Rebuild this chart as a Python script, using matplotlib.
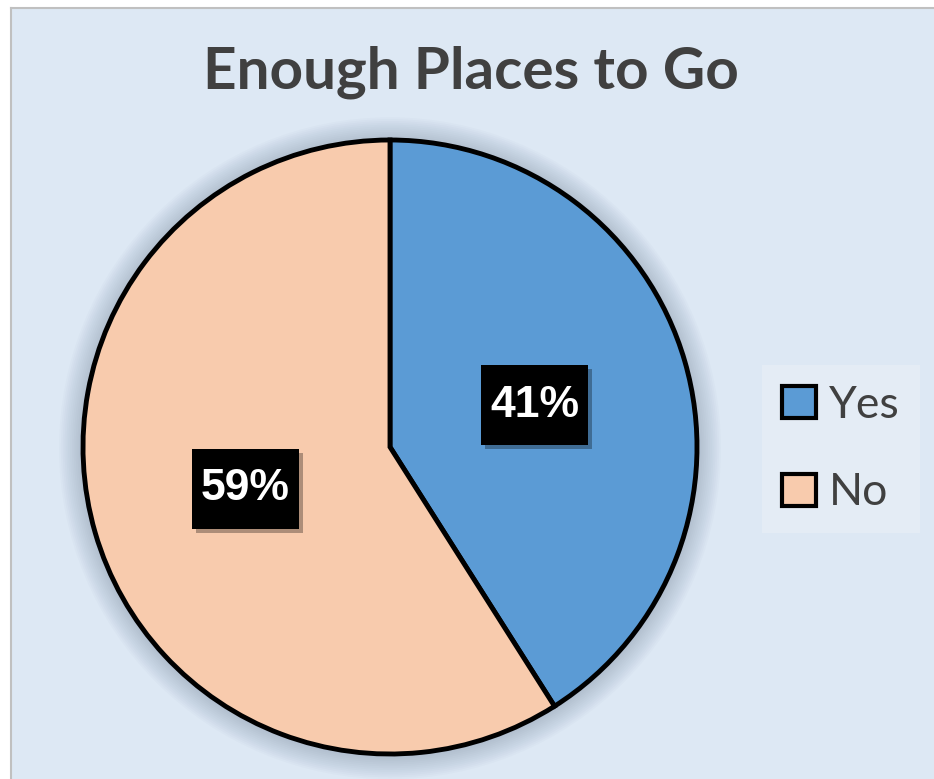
import matplotlib.pyplot as plt
from matplotlib.patches import Circle, Patch
import matplotlib.patheffects as pe

# data
labels = ['Yes', 'No']
shares = [41, 59]
colors = ['#5b9bd5', '#f8cbad']
title = 'Enough Places to Go'

W, H = 934, 779
fig = plt.figure(figsize=(W / 100, H / 100), dpi=100)
fig.patch.set_facecolor('white')

# chart area background (light blue with grey border at top/left)
bg = fig.add_axes([11 / W, -0.01, 1.0, 1.01 - 8 / H])
bg.set_facecolor('#dde8f4')
bg.set_xticks([])
bg.set_yticks([])
for s in bg.spines.values():
    s.set_edgecolor('#c0c0c0')
    s.set_linewidth(1.5)
bg.set_zorder(-5)

# pie axes: centre (390, 447) px, radius 307 px
cx, cy, r = 390, 447, 307
ax = fig.add_axes([(cx - r) / W, (H - cy - r) / H, 2 * r / W, 2 * r / H])
ax.set_zorder(1)
ax.axis('off')

# soft shadow around the pie
for k in range(14):
    ax.add_patch(Circle((0, -0.004), 1.0 + 0.006 * k, facecolor='#6a7f95',
                        edgecolor='none', alpha=0.03, zorder=0, clip_on=False))

wedges, texts, autotexts = ax.pie(
    shares, colors=colors, startangle=90, counterclock=False, radius=1,
    autopct='%.0f%%', pctdistance=0.49,
    wedgeprops=dict(edgecolor='black', linewidth=3.5),
    textprops=dict(color='white', fontsize=32, fontweight='bold', family='Liberation Sans'),
)
for wd in wedges:
    wd.set_zorder(2)
    wd.set_clip_on(False)
for t in autotexts:
    t.set_zorder(5)
    t.set_bbox(dict(boxstyle='square,pad=0.2', facecolor='black', edgecolor='none'))
    bp = t.get_bbox_patch()
    bp.set_mutation_aspect(2.2)
    bp.set_path_effects([pe.SimplePatchShadow(offset=(3, -3), alpha=0.3), pe.Normal()])
ax.set_xlim(-1, 1)
ax.set_ylim(-1, 1)

fig.text(471 / W, 1 - 72 / H, title, ha='center', va='center', fontsize=42,
         fontweight='bold', color='#404040', family='Lato')

handles = [Patch(facecolor=c, edgecolor='black', linewidth=3) for c in colors]
leg = fig.legend(handles, labels, loc='center', bbox_to_anchor=(841 / W, 1 - 449 / H),
                 frameon=True, facecolor='#e4ecf5', edgecolor='none', framealpha=1,
                 fancybox=False, prop=dict(family='Lato', size=32),
                 handlelength=0.75, handleheight=0.75, handletextpad=0.3,
                 labelspacing=1.05, borderpad=0.45, labelcolor='#404040')

fig.savefig('out.png', dpi=100, facecolor=fig.get_facecolor())
